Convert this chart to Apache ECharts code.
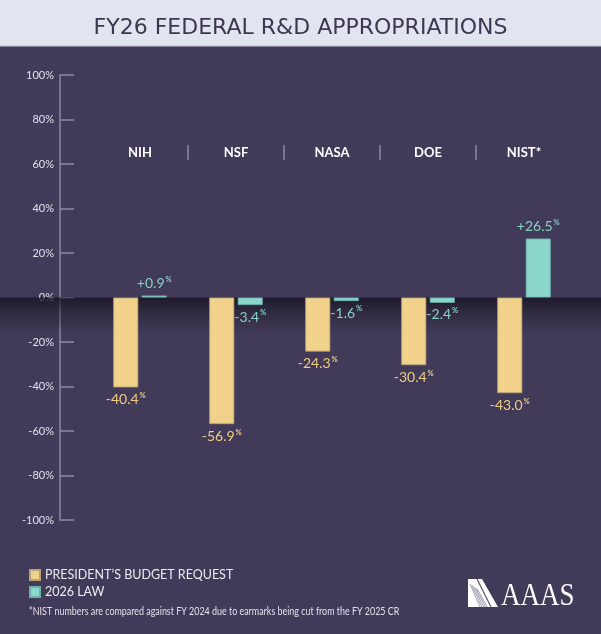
<!DOCTYPE html>
<html>
<head>
<meta charset="utf-8">
<script src="https://cdn.jsdelivr.net/npm/echarts@6/dist/echarts.min.js"></script>
<style>
html,body{margin:0;padding:0;background:#413a58;}
#chart{width:601px;height:634px;}
</style>
</head>
<body>
<div id="chart"></div>
<script>
const titleText = 'FY26 FEDERAL R&D APPROPRIATIONS';
const categories = ['NIH', 'NSF', 'NASA', 'DOE', 'NIST*'];
const seriesNames = ['PRESIDENT\u2019S BUDGET REQUEST', '2026 LAW'];
const requestValues = [-40.4, -56.9, -24.3, -30.4, -43.0];
const lawValues = [0.9, -3.4, -1.6, -2.4, 26.5];
const yMin = -100, yMax = 100, yStep = 20;
const footnote = '*NIST numbers are compared against FY 2024 due to earmarks being cut from the FY 2025 CR';

const BG = '#413a58';
const YELLOW = '#f0d28b';
const TEAL = '#8bd6cb';
const AXIS = '#8f89a5';
const FONT = 'Lato, "Open Sans", sans-serif';

function fmt(p) {
  const v = p.value;
  return '{v|' + (v > 0 ? '+' : '') + v.toFixed(1) + '}{p|%}';
}
function toData(arr) {
  return arr.map(v => ({ value: v, label: { position: v < 0 ? 'bottom' : 'top' } }));
}
function labelCfg(color) {
  return {
    show: true, distance: 4, formatter: fmt,
    rich: {
      v: { color: color, fontSize: 14, fontFamily: FONT, lineHeight: 16 },
      p: { color: color, fontSize: 7.5, fontFamily: FONT, fontWeight: 'bold', verticalAlign: 'top', lineHeight: 16, padding: [0, 0, 7, 1] }
    }
  };
}

const chart = echarts.init(document.getElementById('chart'), null, { renderer: 'canvas' });
chart.setOption({
  backgroundColor: BG,
  animation: false,
  title: {
    text: titleText, left: 'center', top: 12,
    textStyle: { color: '#3d3752', fontSize: 22, fontWeight: 'normal', fontFamily: '"DejaVu Sans", sans-serif' }
  },
  legend: {
    data: seriesNames, orient: 'vertical', left: 24, top: 563,
    icon: 'rect', itemWidth: 10, itemHeight: 10, itemGap: 3,
    textStyle: { color: '#ece9f3', fontSize: 12.5, fontFamily: FONT, lineHeight: 14 }
  },
  grid: [
    { left: 92, width: 480, top: 75, bottom: 114, containLabel: false },
    { left: 92, width: 480, top: 145, height: 15, containLabel: false }
  ],
  xAxis: [
    { type: 'category', gridIndex: 0, data: categories, show: false },
    {
      type: 'category', gridIndex: 1, data: categories, position: 'top',
      axisLine: { show: false }, axisTick: { show: false },
      axisLabel: { inside: true, margin: 8, verticalAlign: 'middle', color: '#ffffff', fontSize: 13, fontWeight: 'bold', fontFamily: FONT },
      splitLine: { show: true, showMinLine: false, showMaxLine: false, interval: 0, lineStyle: { color: AXIS, width: 1.5 } }
    }
  ],
  yAxis: [
    {
      type: 'value', gridIndex: 0, min: yMin, max: yMax, interval: yStep, offset: 32,
      axisLine: { show: true, lineStyle: { color: AXIS, width: 1.5 } },
      axisTick: { show: true, inside: true, length: 14, lineStyle: { color: AXIS, width: 1.5 } },
      axisLabel: { formatter: '{value}%', color: '#e3e0ec', fontSize: 11, fontFamily: FONT, margin: 6 },
      splitLine: { show: false }
    },
    { type: 'value', gridIndex: 1, show: false }
  ],
  series: [
    {
      name: seriesNames[0], type: 'bar', xAxisIndex: 0, yAxisIndex: 0, z: 3,
      data: toData(requestValues), barWidth: 25, barGap: '14%',
      itemStyle: { color: YELLOW, borderColor: '#b9a27a', borderWidth: 0.8 },
      label: labelCfg('#efcd86')
    },
    {
      name: seriesNames[1], type: 'bar', xAxisIndex: 0, yAxisIndex: 0, z: 3,
      data: toData(lawValues), barWidth: 25, barGap: '14%',
      itemStyle: { color: TEAL, borderColor: '#6fb0a8', borderWidth: 0.8 },
      label: labelCfg('#88d1c6')
    }
  ]
});

const y0 = chart.convertToPixel({ yAxisIndex: 0 }, 0);
const stripes = [];
for (let k = 0; k < 5; k++) {
  stripes.push({ type: 'line', shape: { x1: 470 + k * 1.8, y1: 584 + k * 1.2, x2: 480 + k * 1.8, y2: 607 }, style: { stroke: '#7d7794', lineWidth: 0.7 } });
}
chart.setOption({
  graphic: [
    { id: 'band', type: 'rect', z: 0, silent: true, shape: { x: 0, y: 0, width: 601, height: 46 }, style: { fill: '#e1e5f0' } },
    { id: 'bandline', type: 'rect', z: 0, silent: true, shape: { x: 0, y: 45, width: 601, height: 1.5 }, style: { fill: '#cdd1de' } },
    {
      id: 'shadow', type: 'rect', z: 1, silent: true,
      shape: { x: 0, y: y0, width: 601, height: 36 },
      style: {
        fill: new echarts.graphic.LinearGradient(0, 0, 0, 1, [
          { offset: 0, color: 'rgba(22,18,32,0.8)' },
          { offset: 0.35, color: 'rgba(22,18,32,0.45)' },
          { offset: 1, color: 'rgba(22,18,32,0)' }
        ])
      }
    },
    {
      id: 'foot', type: 'text', x: 29, y: 611.5, scaleX: 0.81, z: 5, silent: true,
      style: { text: footnote, fill: '#e3e0ec', font: '11px Lato, sans-serif', verticalAlign: 'middle' }
    },
    {
      id: 'logo', type: 'group', z: 5, silent: true,
      children: [
        { type: 'polygon', shape: { points: [[468, 579], [482, 579], [498, 607], [468, 607]] }, style: { fill: '#ffffff' } },
        { type: 'line', shape: { x1: 477, y1: 579, x2: 491, y2: 607 }, style: { stroke: '#5d5775', lineWidth: 1.2 } }
      ].concat(stripes).concat([
        { type: 'text', x: 501, y: 596.5, scaleX: 0.87, style: { text: 'AAAS', fill: '#ffffff', font: '31px "Liberation Serif", "DejaVu Serif", serif', verticalAlign: 'middle' } }
      ])
    }
  ]
});
</script>
</body>
</html>
